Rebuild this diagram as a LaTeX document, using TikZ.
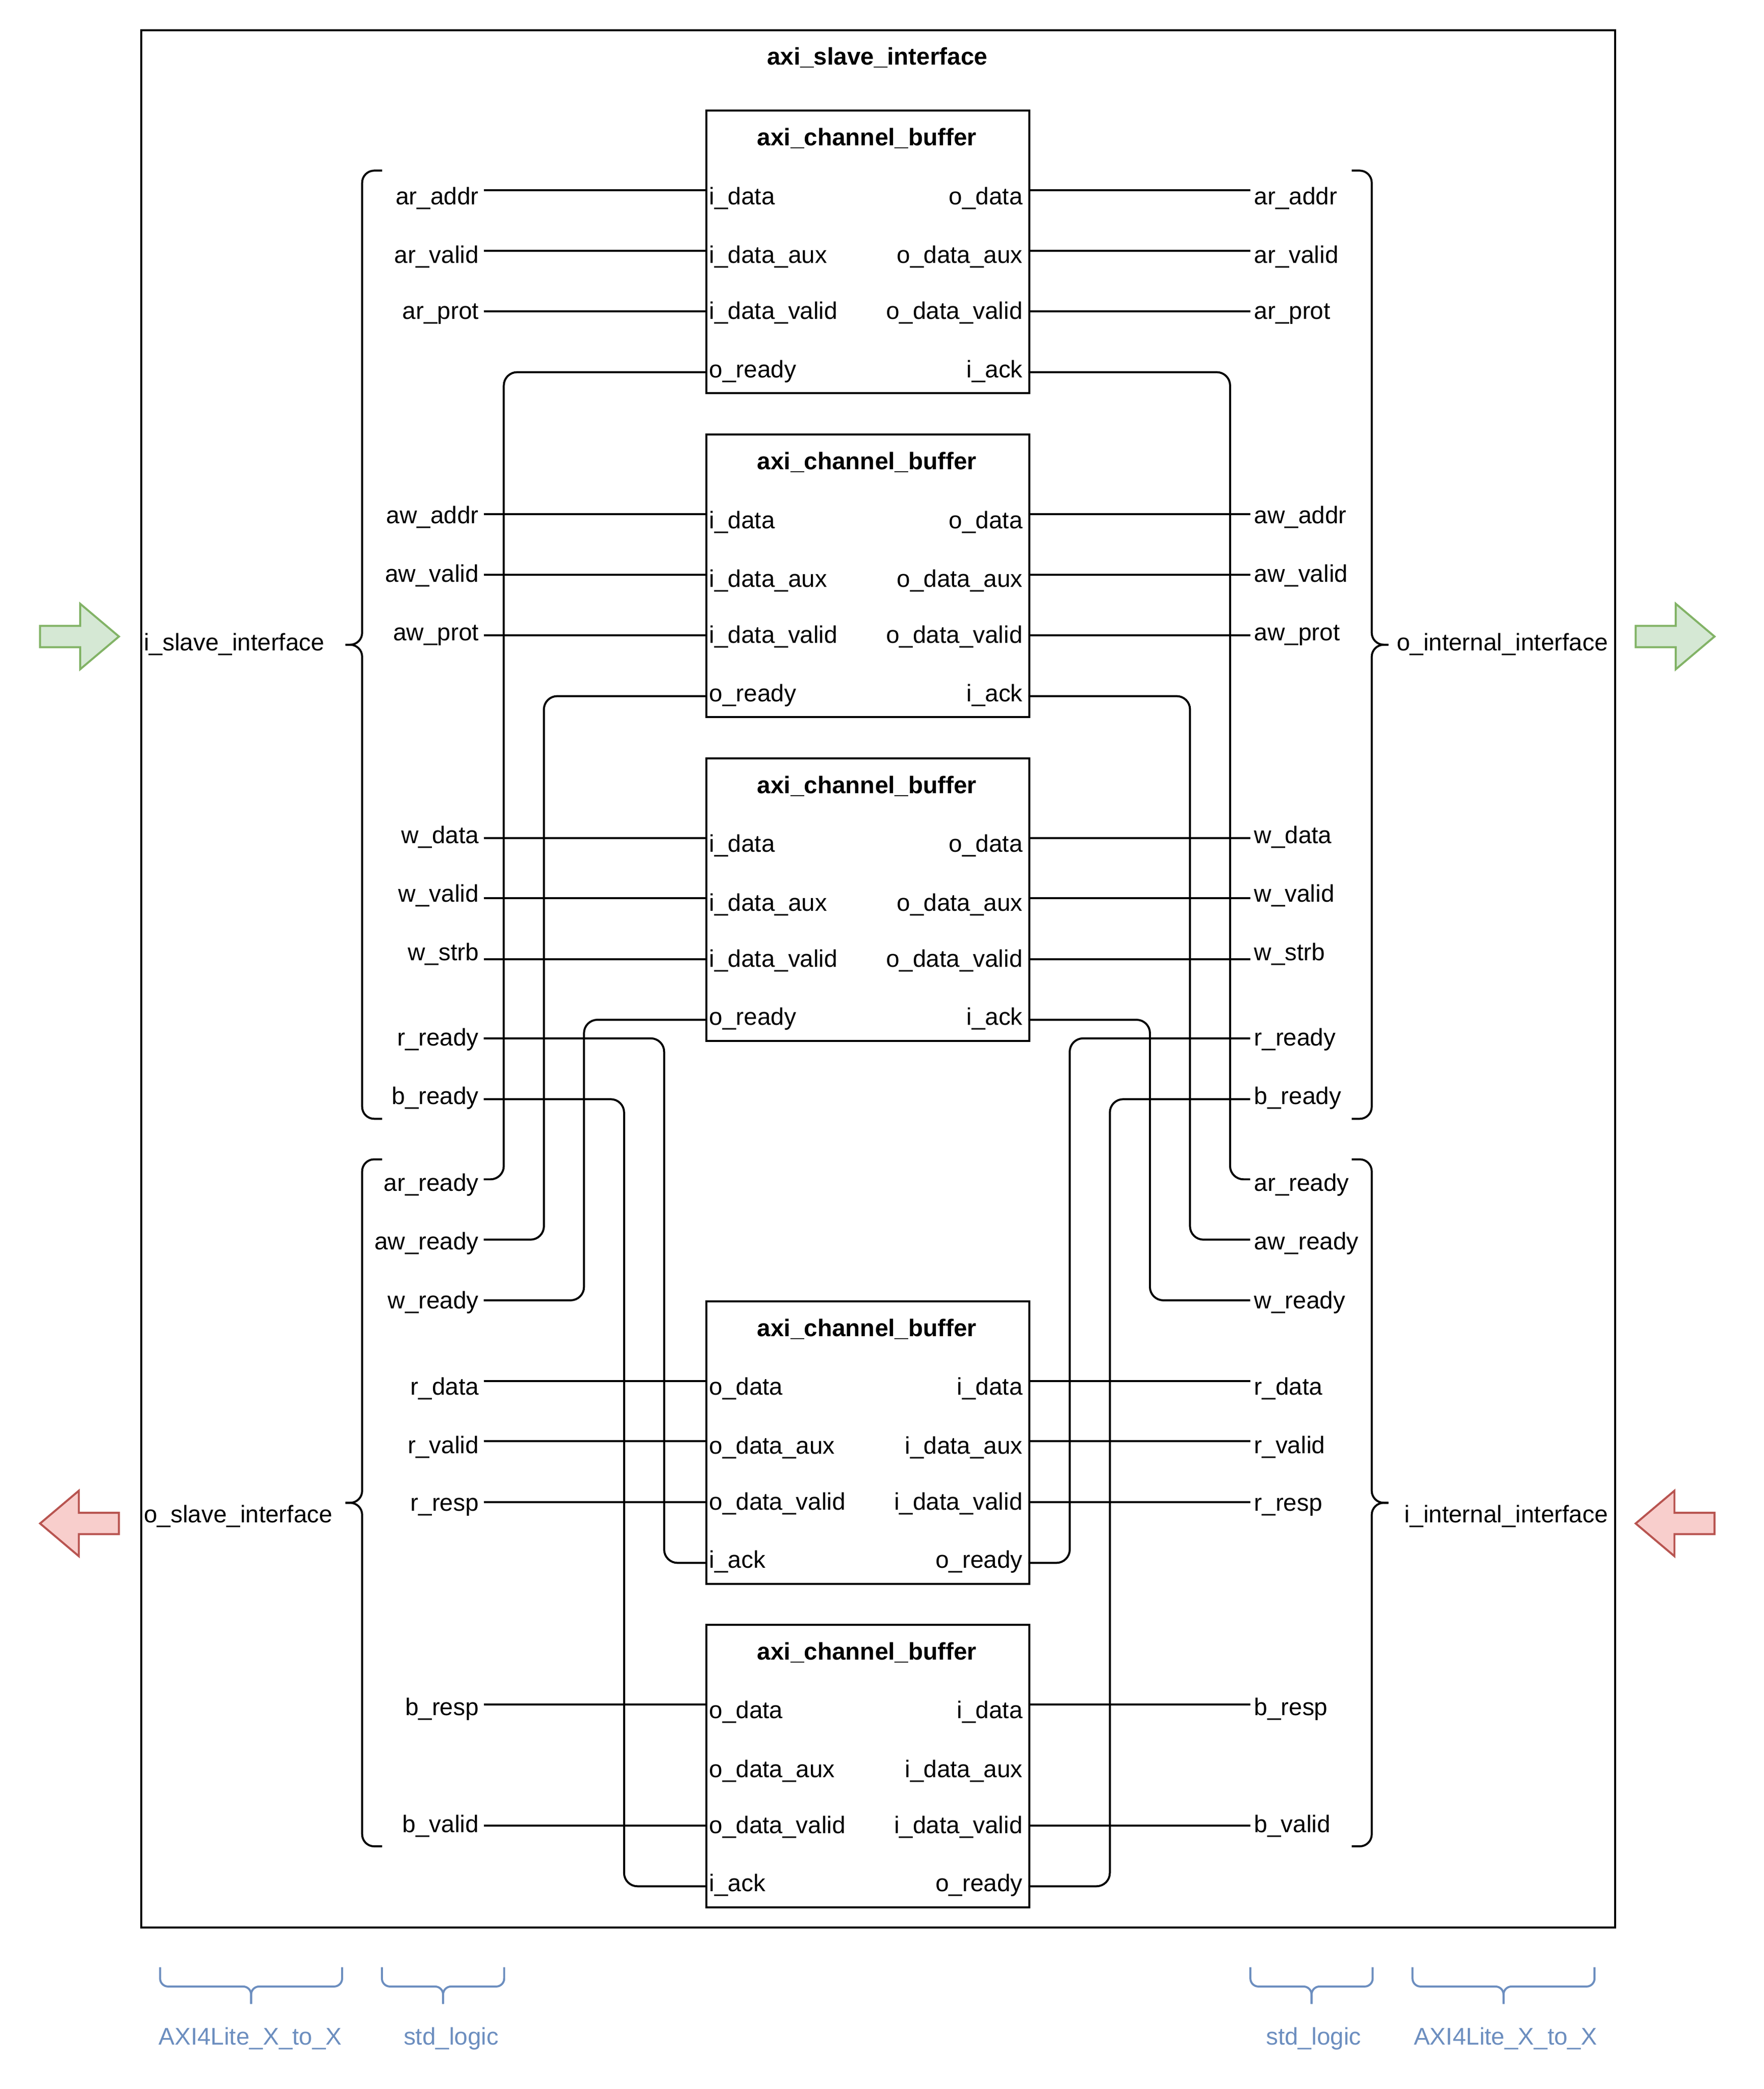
\documentclass[tikz,border=0pt]{standalone}
\usepackage{fontspec}
\setmainfont{Liberation Sans}
\usepackage{tikz}
\definecolor{ArrowInFill}{HTML}{D5E8D4}
\definecolor{ArrowInLine}{HTML}{82B366}
\definecolor{ArrowOutFill}{HTML}{F8CECC}
\definecolor{ArrowOutLine}{HTML}{B85450}
\definecolor{TypeBlue}{HTML}{6C8EBF}

\begin{document}
\begin{tikzpicture}[x=1pt,y=-1pt,line width=1.5pt,font=\fontsize{18}{21.6}\selectfont,
  txt/.style={inner sep=0pt},
  bold/.style={txt,font=\fontsize{18}{21.6}\selectfont\bfseries},
  buf/.style={draw,rectangle,anchor=north west,inner sep=0pt,minimum width=241.5pt,minimum height=211.5pt},
  wire/.style={rounded corners=10pt},
  brc/.style={rounded corners=9pt},
  tbrc/.style={draw=TypeBlue,rounded corners=6pt},
  in arr/.style={draw=ArrowInLine,fill=ArrowInFill},
  out arr/.style={draw=ArrowOutLine,fill=ArrowOutFill}]
\useasboundingbox (0,0) rectangle (1320,1563.2);
\node[draw,rectangle,anchor=north west,inner sep=0pt,minimum width=1103pt,minimum height=1419.7pt] (slave) at (105,21.9) {};
\node[bold,anchor=base] (slave-title) at (656.5,48.4) {axi\_slave\_interface};
% channel buffers
\foreach \ch/\tp in {ar/82,aw/324.4,w/566.6,r/973,b/1215} {
   \node[buf] (buf\ch) at (528,\tp) {};
   \node[bold,anchor=base] (buf\ch-title) at (648.75,\tp+27) {axi\_channel\_buffer};
   \foreach \k/\o in {1/60.5,2/105.5,3/151,4/196.5} {
      \coordinate (buf\ch-w\k) at (528,\tp+\o);
      \coordinate (buf\ch-e\k) at (769.5,\tp+\o);
   }
}
\foreach \ch/\tp in {ar/82,aw/324.4,w/566.6} {
   \foreach \k/\y/\lt/\rt in {1/71/i\_data/o\_data,2/115/i\_data\_aux/o\_data\_aux,%
      3/157/i\_data\_valid/o\_data\_valid,4/200.5/o\_ready/i\_ack} {
      \node[txt,anchor=base west] (buf\ch-tw\k) at (530,\tp+\y) {\lt};
      \node[txt,anchor=base east] (buf\ch-te\k) at (766,\tp+\y) {\rt};
   }
}
\foreach \ch/\tp in {r/973,b/1215} {
   \foreach \k/\y/\lt/\rt in {1/71/o\_data/i\_data,2/115/o\_data\_aux/i\_data\_aux,%
      3/157/o\_data\_valid/i\_data\_valid,4/200.5/i\_ack/o\_ready} {
      \node[txt,anchor=base west] (buf\ch-tw\k) at (530,\tp+\y) {\lt};
      \node[txt,anchor=base east] (buf\ch-te\k) at (766,\tp+\y) {\rt};
   }
}
% signal names
\foreach \n/\s/\ty/\wy in {ar-addr/ar\_addr/153.1/142.5,ar-valid/ar\_valid/197/187.5,ar-prot/ar\_prot/238.9/233,%
   aw-addr/aw\_addr/391.6/384.9,aw-valid/aw\_valid/435.4/429.9,aw-prot/aw\_prot/479.3/475.4,%
   w-data/w\_data/631/627.1,w-valid/w\_valid/674.9/672.1,w-strb/w\_strb/718.8/717.6,%
   r-ready/r\_ready/782.6/777,b-ready/b\_ready/826.5/822.5,%
   ar-ready/ar\_ready/891.3/882.5,aw-ready/aw\_ready/935.2/927.6,w-ready/w\_ready/979.1/973,%
   r-data/r\_data/1044/1033.5,r-valid/r\_valid/1087.8/1078.5,r-resp/r\_resp/1130.7/1124,%
   b-resp/b\_resp/1283.4/1275.5,b-valid/b\_valid/1371.1/1366} {
   \node[txt,anchor=base east] (L-\n) at (359,\ty) {\s};
   \node[txt,anchor=base west] (R-\n) at (937.8,\ty) {\s};
   \coordinate (Lw-\n) at (362,\wy);
   \coordinate (Rw-\n) at (935.5,\wy);
}
\foreach \n/\ch/\k in {ar-addr/ar/1,ar-valid/ar/2,ar-prot/ar/3,aw-addr/aw/1,aw-valid/aw/2,aw-prot/aw/3,%
   w-data/w/1,w-valid/w/2,w-strb/w/3,r-data/r/1,r-valid/r/2,r-resp/r/3,b-resp/b/1,b-valid/b/3} {
   \draw (Lw-\n) -- (buf\ch-w\k);
   \draw (buf\ch-e\k) -- (Rw-\n);
}
% ready / ack loops
\foreach \ch/\d in {ar/15pt,aw/45pt,w/75pt} {
   \draw[wire] (buf\ch-w4) -| ([xshift=\d]Lw-\ch-ready) -- (Lw-\ch-ready);
   \draw[wire] (buf\ch-e4) -| ([xshift=-\d]Rw-\ch-ready) -- (Rw-\ch-ready);
}
\foreach \ch/\d in {r/135pt,b/105pt} {
   \draw[wire] (Lw-\ch-ready) -- ([xshift=\d]Lw-\ch-ready) |- (buf\ch-w4);
   \draw[wire] (Rw-\ch-ready) -- ([xshift=-\d]Rw-\ch-ready) |- (buf\ch-e4);
}
% interface braces
\foreach \xl/\xe/\xt/\ya/\yb in {271/286/258.5/127.7/837.2,271/286/258.5/867.5/1381.6,%
   1026.5/1011.5/1039/127.7/837.2,1026.5/1011.5/1039/867.5/1381.6} {
   \draw[brc] (\xe,\ya) -- (\xl,\ya) -- (\xl,{(\ya+\yb)/2}) -- (\xt,{(\ya+\yb)/2});
   \draw[brc] (\xt,{(\ya+\yb)/2}) -- (\xl,{(\ya+\yb)/2}) -- (\xl,\yb) -- (\xe,\yb);
}
\node[txt,anchor=base west] (i-slave) at (107,486.8) {i\_slave\_interface};
\node[txt,anchor=base west] (o-slave) at (107,1139.5) {o\_slave\_interface};
\node[txt,anchor=base east] (o-internal) at (1204,486.8) {o\_internal\_interface};
\node[txt,anchor=base east] (i-internal) at (1204,1139.5) {i\_internal\_interface};
% block arrows
\foreach \ax/\ay/\sc/\st in {30/476.3/1/in,1224/476.3/1/in,89/1140/-1/out,1283/1140/-1/out} {
   \draw[\st\space arr,shift={(\ax,\ay)},xscale=\sc] (0,-8) -- (30,-8) -- (30,-24.5) -- (59,0)
      -- (30,24.5) -- (30,8) -- (0,8) -- cycle;
}
% type braces
\foreach \xa/\xb in {119.8/256,285.8/377.3,935.7/1027.2,1057/1193.2} {
   \draw[tbrc] (\xa,1472) -- (\xa,1486.5) -- ({(\xa+\xb)/2},1486.5) -- ({(\xa+\xb)/2},1499.5);
   \draw[tbrc] ({(\xa+\xb)/2},1499.5) -- ({(\xa+\xb)/2},1486.5) -- (\xb,1486.5) -- (\xb,1472);
}
\node[txt,anchor=base,text=TypeBlue] (type-l1) at (187.3,1530) {AXI4Lite\_X\_to\_X};
\node[txt,anchor=base,text=TypeBlue] (type-l2) at (337.6,1530) {std\_logic};
\node[txt,anchor=base,text=TypeBlue] (type-r1) at (983,1530) {std\_logic};
\node[txt,anchor=base,text=TypeBlue] (type-r2) at (1126.6,1530) {AXI4Lite\_X\_to\_X};
\end{tikzpicture}
\end{document}
